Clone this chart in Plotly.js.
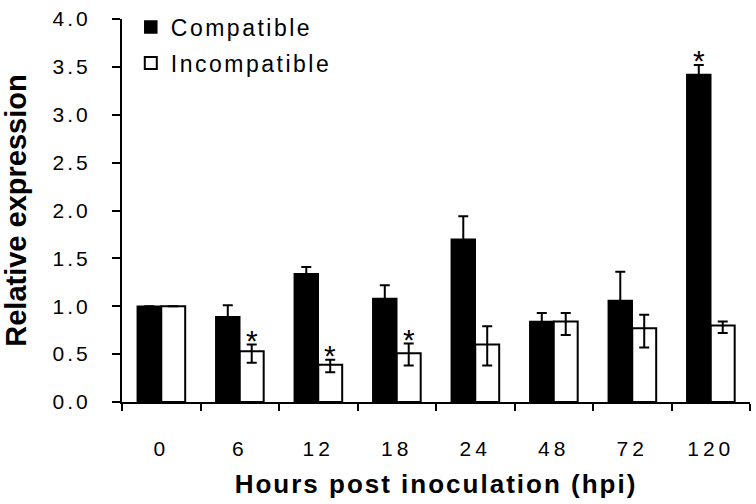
<!DOCTYPE html>
<html><head><meta charset="utf-8">
<script src="https://cdn.plot.ly/plotly-3.0.1.min.js"></script>
<style>
body{margin:0;background:#fff}#c{width:756px;height:504px}
#c .xtick text{letter-spacing:4px}
#c .ytick text{letter-spacing:3px}
#c .g-xtitle text{letter-spacing:2px}
#c .legendtext{letter-spacing:2.5px}
#c .legend *{clip-path:none !important}
</style>
</head><body><div id="c"></div>
<script>
const categories = ["0","6","12","18","24","48","72","120"];
const compatible = [1.00, 0.89, 1.34, 1.08, 1.70, 0.84, 1.06, 3.42];
const compatibleErr = [0, 0.12, 0.07, 0.14, 0.24, 0.09, 0.30, 0.10];
const incompatible = [1.00, 0.53, 0.39, 0.51, 0.60, 0.84, 0.77, 0.80];
const incompatibleErrPlus = [0, 0.07, 0.05, 0.10, 0.19, 0.09, 0.14, 0.04];
const incompatibleErrMinus = [0, 0.12, 0.08, 0.13, 0.22, 0.14, 0.20, 0.08];
// significance marks
const sigCompatible = ["120"];
const sigIncompatible = ["6","12","18"];
const xTitle = "Hours post inoculation (hpi)";
const yTitle = "Relative expression";

const font = "Liberation Sans, Arial, sans-serif";
const traces = [
  {type:"bar", name:"Compatible", legendgroup:"a", x:categories, y:compatible,
   marker:{color:"#000", line:{color:"#000", width:1.5}},
   error_y:{type:"data", array:compatibleErr, visible:true, color:"#000", thickness:2, width:5}},
  {type:"bar", name:"Incompatible", legendgroup:"b", x:categories, y:incompatible,
   marker:{color:"#fff", line:{color:"#000", width:2}},
   error_y:{type:"data", symmetric:false, array:incompatibleErrPlus, arrayminus:incompatibleErrMinus, visible:true, color:"#000", thickness:2, width:5}}
];
const annotations = [];
const starFont = {family:font,size:30,color:"#000"};
sigCompatible.forEach(c=>{const i=categories.indexOf(c);
  annotations.push({x:i, y:compatible[i]+compatibleErr[i], xshift:-12, yshift:-14, yanchor:"bottom", text:"*", showarrow:false, font:starFont});});
sigIncompatible.forEach(c=>{const i=categories.indexOf(c);
  annotations.push({x:i, y:incompatible[i]+incompatibleErrPlus[i], xshift:12, yshift:-14, yanchor:"bottom", text:"*", showarrow:false, font:starFont});});
// y-axis title placed as a rotated annotation so it can sit at the far left edge
annotations.push({xref:"paper", yref:"paper", x:-0.17, y:0.5, xanchor:"center", yanchor:"middle", textangle:-90,
  text:"<b>"+yTitle+"</b>", showarrow:false, font:{family:font,size:29,color:"#000"}});

const layout = {
  width:756, height:504, paper_bgcolor:"#fff", plot_bgcolor:"#fff",
  margin:{l:122, r:6, t:15, b:102},
  barmode:"group", bargap:0.39, bargroupgap:0,
  font:{family:font, color:"#000"},
  showlegend:true,
  legend:{x:0.014, y:1.035, xanchor:"left", yanchor:"top", font:{family:font,size:23,color:"#000"}, bgcolor:"rgba(0,0,0,0)", itemwidth:30, tracegroupgap:3},
  xaxis:{type:"category", range:[-0.5,7.5], showline:true, linecolor:"#000", linewidth:2, ticks:"outside", tickson:"boundaries", ticklen:7, tickwidth:2, tickcolor:"#000",
    ticklabelstandoff:27,
    tickfont:{family:font,size:21,color:"#000"}, showgrid:false, zeroline:false,
    title:{text:"<b>"+xTitle+"</b>", font:{family:font,size:26,color:"#000"}, standoff:16}},
  yaxis:{range:[0,4], dtick:0.5, tickformat:".1f", showline:true, linecolor:"#000", linewidth:2, ticks:"outside", ticklen:8, tickwidth:2, tickcolor:"#000",
    ticklabelstandoff:17,
    tickfont:{family:font,size:21,color:"#000"}, showgrid:false, zeroline:false},
  annotations:annotations
};
Plotly.newPlot("c", traces, layout, {displayModeBar:false, staticPlot:true});
</script></body></html>
